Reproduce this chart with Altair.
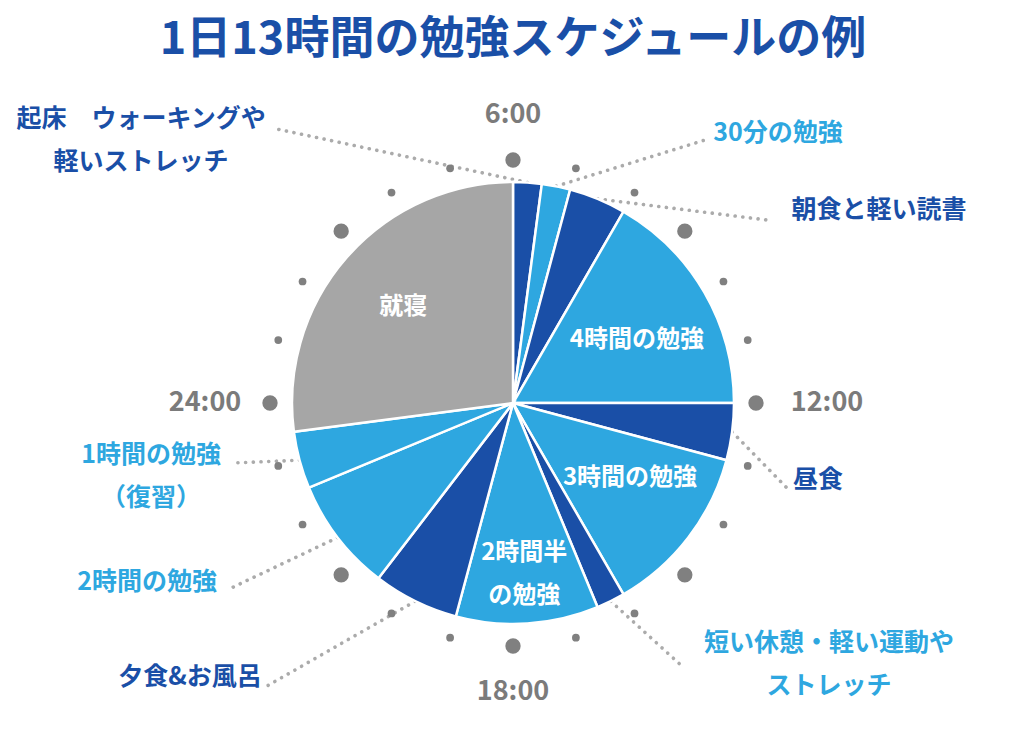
import math
import altair as alt
import pandas as pd

# ---------------- data ----------------
segments = ["起床・ウォーキング・軽いストレッチ", "30分の勉強", "朝食と軽い読書", "4時間の勉強",
            "昼食", "3時間の勉強", "短い休憩・軽い運動やストレッチ", "2時間半の勉強",
            "夕食&お風呂", "2時間の勉強", "1時間の勉強（復習）", "就寝"]
hours = [0.5, 0.5, 1, 4, 1, 3, 0.5, 2.5, 1.5, 2, 1, 6.5]
kinds = ["活動", "勉強", "活動", "勉強", "活動", "勉強", "活動", "勉強", "活動", "勉強", "勉強", "睡眠"]

inner_labels = {11: ["就寝"], 3: ["4時間の勉強"], 5: ["3時間の勉強"], 7: ["2時間半", "の勉強"]}
outer_labels = {0: ["起床　ウォーキングや", "軽いストレッチ"], 1: ["30分の勉強"], 2: ["朝食と軽い読書"],
                4: ["昼食"], 6: ["短い休憩・軽い運動や", "ストレッチ"], 8: ["夕食&お風呂"],
                9: ["2時間の勉強"], 10: ["1時間の勉強", "（復習）"]}

clock_labels = ["6:00", "12:00", "18:00", "24:00"]
clock_hours = [0, 6, 12, 18]          # hours elapsed since 6:00
title_text = "1日13時間の勉強スケジュールの例"

# ---------------- layout / style ----------------
W, H = 1024, 745
CX, CY, R = 513, 403, 221
DOT_R = 243
LINE_H = 43
FONT = "Noto Sans CJK JP"
DARK, LIGHT, GREY = "#1a4fa7", "#2ea7e0", "#a6a6a6"
kind_color = {"活動": DARK, "勉強": LIGHT, "睡眠": GREY}
outer_color = {0: DARK, 1: LIGHT, 2: DARK, 4: DARK, 6: LIGHT, 8: DARK, 9: LIGHT, 10: LIGHT}
inner_layout = {11: (146, 0.0), 3: (139, 0.2), 5: (139, -0.32), 7: (172, 0.0)}   # radius, hour nudge
outer_layout = {  # label centre x, first-line y, leader end x, y
    0: (141, 119, 272, 128), 1: (778, 133, 705, 140), 2: (879, 210, 767, 220),
    4: (818, 480, 788, 489), 6: (829, 643, 683, 667), 8: (190, 677, 267, 686),
    9: (147, 582, 227, 590), 10: (151, 455, 233, 463)}
clock_radius = {0: 288, 6: 314, 12: 289, 18: 308}


def polar(h, r):
    t = h / 24 * 2 * math.pi
    return CX + r * math.sin(t), CY - r * math.cos(t)


starts = [sum(hours[:i]) for i in range(len(hours))]
mids = [s + h / 2 for s, h in zip(starts, hours)]

pie_df = pd.DataFrame({"idx": range(len(hours)), "segment": segments, "hours": hours, "kind": kinds})

inner_rows = []
for i, lines in inner_labels.items():
    r, dh = inner_layout[i]
    x, y = polar(mids[i] + dh, r)
    n = len(lines)
    for k, t in enumerate(lines):
        inner_rows.append({"text": t, "x": x, "y": y + (k - (n - 1) / 2) * LINE_H})
inner_df = pd.DataFrame(inner_rows)

outer_rows, rule_rows = [], []
for i, lines in outer_labels.items():
    lx, ly, ex, ey = outer_layout[i]
    col = outer_color[i]
    for k, t in enumerate(lines):
        outer_rows.append({"text": t, "x": lx, "y": ly + k * LINE_H, "col": col})
    px, py = polar(mids[i], R)
    rule_rows.append({"x": px, "y": py, "x2": ex, "y2": ey})
outer_df = pd.DataFrame(outer_rows)
rule_df = pd.DataFrame(rule_rows)

dot_rows = []
for h in range(24):
    x, y = polar(h, DOT_R)
    dot_rows.append({"x": x, "y": y, "size": 235 if h % 3 == 0 else 60})
dot_df = pd.DataFrame(dot_rows)

clock_rows = []
for t, h in zip(clock_labels, clock_hours):
    x, y = polar(h, clock_radius[h])
    clock_rows.append({"text": t, "x": x, "y": y})
clock_df = pd.DataFrame(clock_rows)

title_df = pd.DataFrame({"text": [title_text], "x": [513], "y": [40]})

xs = alt.Scale(domain=[0, W], range=[0, W])
ys = alt.Scale(domain=[0, H], range=[0, H])
X = lambda f: alt.X(f, type="quantitative", scale=xs, axis=None)
Y = lambda f: alt.Y(f, type="quantitative", scale=ys, axis=None)

rules = alt.Chart(rule_df).mark_rule(
    strokeDash=[0.1, 7.6], strokeCap="round", strokeWidth=3.6, color="#ababab"
).encode(x=X("x"), y=Y("y"), x2="x2:Q", y2="y2:Q")

pie = alt.Chart(pie_df).mark_arc(radius=R, stroke="white", strokeWidth=2.5).encode(
    theta=alt.Theta("hours:Q", stack=True),
    order=alt.Order("idx:Q"),
    color=alt.Color("kind:N", scale=alt.Scale(domain=list(kind_color), range=list(kind_color.values())),
                    legend=None),
    x=alt.value(CX), y=alt.value(CY),
)

dots = alt.Chart(dot_df).mark_point(filled=True, shape="circle", color="#808080", opacity=1).encode(
    x=X("x"), y=Y("y"), size=alt.Size("size:Q", scale=None))

inner = alt.Chart(inner_df).mark_text(font=FONT, fontWeight="bold", fontSize=24, color="white",
                                      align="center", baseline="middle").encode(
    x=X("x"), y=Y("y"), text="text:N")

outer = alt.Chart(outer_df).mark_text(font=FONT, fontWeight="bold", fontSize=25,
                                      align="center", baseline="middle").encode(
    x=X("x"), y=Y("y"), text="text:N", color=alt.Color("col:N", scale=None))

clock = alt.Chart(clock_df).mark_text(font=FONT, fontWeight="bold", fontSize=27, color="#7b7b7b",
                                      align="center", baseline="middle").encode(
    x=X("x"), y=Y("y"), text="text:N")

title = alt.Chart(title_df).mark_text(font=FONT, fontWeight="bold", fontSize=45, color=DARK,
                                      align="center", baseline="middle").encode(
    x=X("x"), y=Y("y"), text="text:N")

chart = alt.layer(rules, pie, dots, inner, outer, clock, title).properties(
    width=W, height=H, autosize=alt.AutoSizeParams(type="none"), padding=0, background="white"
).configure_view(stroke=None)

chart.save("out.html", embed_options={"renderer": "svg", "actions": False})
